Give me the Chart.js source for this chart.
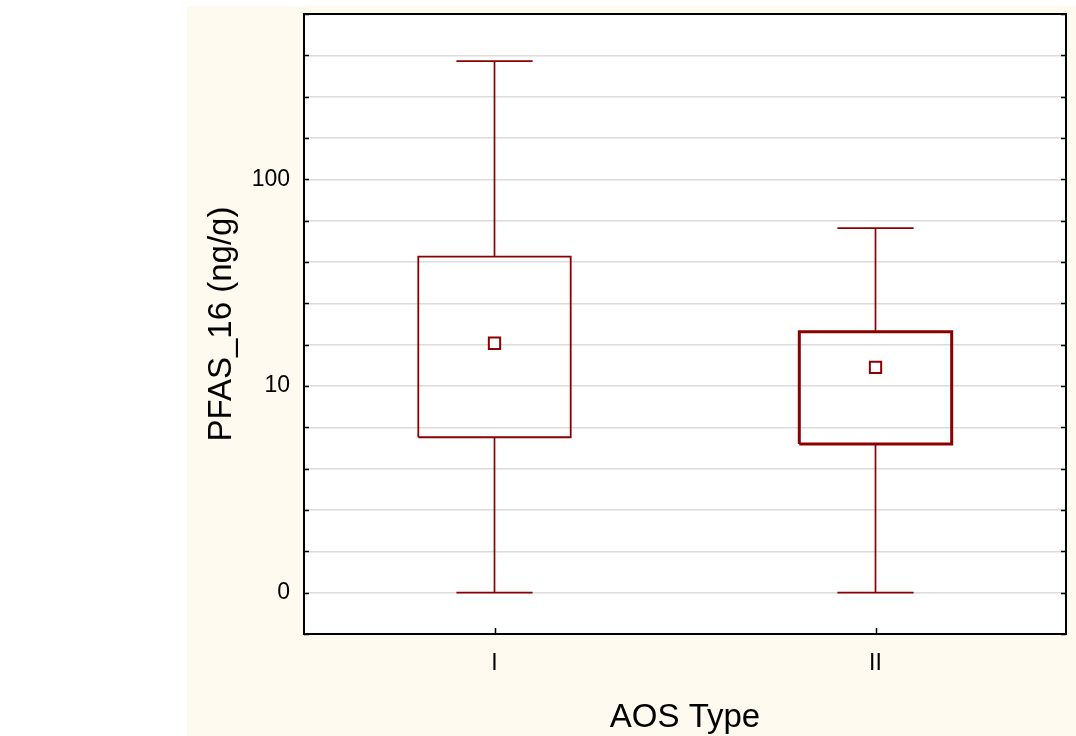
<!DOCTYPE html>
<html>
<head>
<meta charset="utf-8">
<script src="https://cdn.jsdelivr.net/npm/chart.js@4"></script>
<style>
  body { margin: 0; background: #fff; }
  #chart { display: block; }
</style>
</head>
<body>
<canvas id="chart" width="1076" height="736"></canvas>
<script>
// box plot values, ng/g
const categories = ["I", "II"];
const minVals = [1, 1];
const q1Vals = [5.65, 5.24];
const centerVals = [16.1, 12.3];
const q3Vals = [42.3, 18.3];
const maxVals = [373, 58.0];

// axis labels at log10 positions 0, 1, 2
const yTickPos = [0, 1, 2];
const yTickLabels = ["0", "10", "100"];

const RED = "#8b0000";
const boxLineWidths = [1.8, 3];

const lg = v => Math.log10(v);

function seg(x1, y1, x2, y2, w) {
  return {
    data: [{ x: x1, y: y1 }, { x: x2, y: y2 }],
    showLine: true,
    borderColor: RED,
    borderWidth: w,
    pointRadius: 0,
    tension: 0,
  };
}

const datasets = [];
categories.forEach((c, i) => {
  const x = i + 1;
  const lo = lg(minVals[i]), a = lg(q1Vals[i]), b = lg(q3Vals[i]), hi = lg(maxVals[i]);
  // whiskers + caps
  datasets.push(seg(x, b, x, hi, 1.7));
  datasets.push(seg(x - 0.1, hi, x + 0.1, hi, 1.7));
  datasets.push(seg(x, lo, x, a, 1.7));
  datasets.push(seg(x - 0.1, lo, x + 0.1, lo, 1.7));
  // box
  datasets.push({
    data: [
      { x: x - 0.2, y: a }, { x: x + 0.2, y: a },
      { x: x + 0.2, y: b }, { x: x - 0.2, y: b }, { x: x - 0.2, y: a }
    ],
    showLine: true,
    borderColor: RED,
    borderWidth: boxLineWidths[i],
    borderJoinStyle: "miter",
    pointRadius: 0,
    tension: 0,
  });
  // center marker
  datasets.push({
    data: [{ x: x, y: lg(centerVals[i]) }],
    pointStyle: "rect",
    pointRadius: 8,
    pointBorderWidth: 2,
    pointBorderColor: RED,
    pointBackgroundColor: "#fff",
    showLine: false,
  });
});

const frame = {
  id: "frame",
  beforeDraw(chart) {
    const { ctx, chartArea: a } = chart;
    ctx.save();
    ctx.fillStyle = "#fff";
    ctx.fillRect(0, 0, chart.width, chart.height);
    ctx.fillStyle = "#fefaef";
    ctx.fillRect(187, 6, chart.width - 187, chart.height - 6);
    ctx.fillStyle = "#fff";
    ctx.fillRect(a.left, a.top, a.right - a.left, a.bottom - a.top);
    ctx.restore();
  },
  afterDraw(chart) {
    const { ctx, chartArea: a, scales } = chart;
    ctx.save();
    ctx.strokeStyle = "#000";
    ctx.lineWidth = 1.5;
    // inward ticks
    ctx.beginPath();
    scales.y.ticks.forEach(t => {
      const py = Math.round(scales.y.getPixelForValue(t.value)) + 0.5;
      ctx.moveTo(a.left, py); ctx.lineTo(a.left + 5, py);
      ctx.moveTo(a.right, py); ctx.lineTo(a.right - 5, py);
    });
    scales.x.ticks.forEach(t => {
      const px = Math.round(scales.x.getPixelForValue(t.value)) + 0.5;
      ctx.moveTo(px, a.bottom); ctx.lineTo(px, a.bottom - 6);
    });
    ctx.stroke();
    ctx.lineWidth = 2;
    ctx.strokeRect(a.left, a.top, a.right - a.left, a.bottom - a.top);
    ctx.restore();
  }
};

new Chart(document.getElementById("chart"), {
  type: "scatter",
  data: { datasets },
  plugins: [frame],
  options: {
    responsive: false,
    animation: false,
    devicePixelRatio: 1,
    layout: { padding: { left: 198, right: 3, top: 14, bottom: 0 } },
    plugins: { legend: { display: false }, tooltip: { enabled: false } },
    scales: {
      x: {
        type: "linear",
        min: 0.5,
        max: 2.5,
        afterBuildTicks: s => { s.ticks = categories.map((c, i) => ({ value: i + 1 })); },
        afterFit: s => { s.height = 102; s.paddingLeft = 0; s.paddingRight = 0; },
        grid: { display: false, drawTicks: false },
        border: { display: false },
        ticks: {
          padding: 16,
          color: "#000",
          font: { family: "Liberation Sans, Arial", size: 23 },
          callback: v => categories[Math.round(v) - 1] || "",
        },
        title: {
          display: true,
          text: "AOS Type",
          color: "#000",
          padding: { top: 4, bottom: 0 },
          font: { family: "Liberation Sans, Arial", size: 33, lineHeight: 1.1 },
        },
      },
      y: {
        type: "linear",
        min: -0.2,
        max: 2.8,
        afterFit: s => { s.width = 304 - 198; s.paddingTop = 0; s.paddingBottom = 0; },
        ticks: {
          stepSize: 0.2,
          padding: 14,
          color: "#000",
          autoSkip: false,
          font: { family: "Liberation Sans, Arial", size: 23 },
          callback: v => {
            const k = yTickPos.findIndex(p => Math.abs(p - v) < 1e-6);
            return k >= 0 ? yTickLabels[k] : "";
          },
        },
        grid: { color: "#dcdcdc", lineWidth: 1.5, drawTicks: false },
        border: { display: false },
        title: {
          display: true,
          text: "PFAS_16 (ng/g)",
          color: "#000",
          font: { family: "Liberation Sans, Arial", size: 33 },
        },
      },
    },
  },
});
</script>
</body>
</html>
